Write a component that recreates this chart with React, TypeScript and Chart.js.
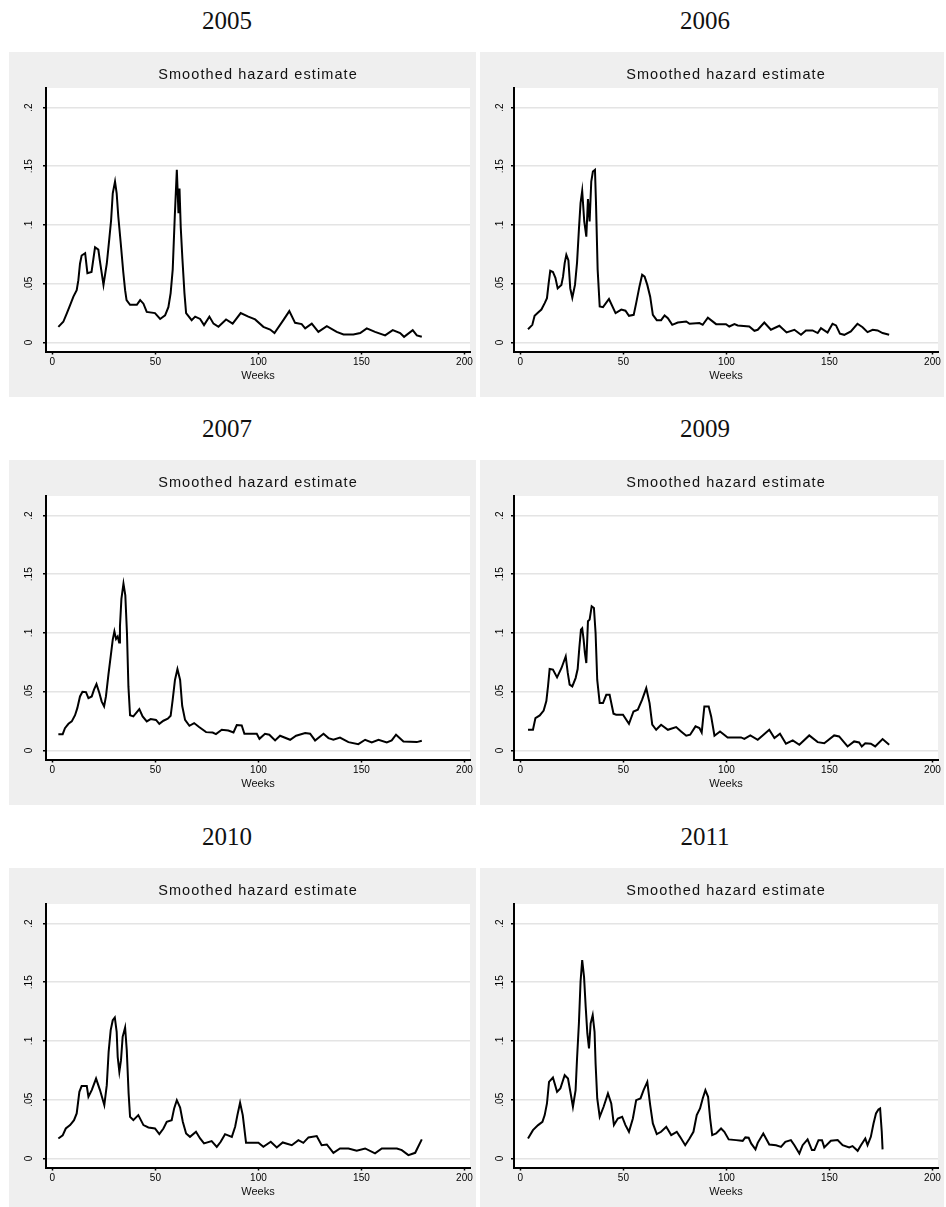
import React, { useEffect, useRef } from "react";
import { Chart, registerables } from "chart.js";

Chart.register(...registerables);

const panelTitle = "Smoothed hazard estimate";
const xAxisTitle = "Weeks";
const xTicks = [0, 50, 100, 150, 200];
const yTicks = [0, 0.05, 0.1, 0.15, 0.2];
const yTickLabels = ["0", ".05", ".1", ".15", ".2"];
const years = ["2005", "2006", "2007", "2009", "2010", "2011"];

const weeks2005 = [2.9,5.3,7,8.6,10.2,11.8,12.6,13.4,14.2,15.9,17,19,20.7,22.3,23,24.8,26.4,27.5,28.5,29.3,30.4,31.2,32,33.2,34.4,35.3,36,37.7,41,42.6,44.2,45.8,49.8,52.3,54.7,56.3,57.4,58.4,59.4,60.4,61.2,61.7,62.3,63.1,64.1,64.9,67.6,69.3,71.7,73.6,76.2,78.2,80.6,84.3,87.5,91.4,95.1,98.4,102.4,105.7,107.8,112.1,115,117.8,121,122.7,125.9,129.1,133.2,138,141.3,146.1,149.4,152.6,156.6,161.5,165.2,168.8,170.7,174.9,176.9,179.3];
const hazard2005 = [0.0133,0.0176,0.0247,0.0318,0.039,0.0445,0.053,0.067,0.074,0.076,0.059,0.06,0.081,0.079,0.07,0.049,0.067,0.086,0.104,0.127,0.137,0.127,0.107,0.084,0.06,0.0445,0.036,0.032,0.032,0.036,0.033,0.026,0.025,0.02,0.023,0.03,0.042,0.062,0.107,0.147,0.11,0.131,0.098,0.0715,0.042,0.025,0.019,0.022,0.02,0.0148,0.022,0.016,0.0133,0.0196,0.016,0.025,0.022,0.0196,0.0133,0.011,0.008,0.019,0.0267,0.0167,0.0156,0.012,0.016,0.009,0.0139,0.009,0.0068,0.0068,0.008,0.012,0.009,0.006,0.0105,0.008,0.0048,0.0105,0.006,0.0048];

const weeks2006 = [3.7,5.8,6.9,8.6,10.2,11.8,12.9,13.7,14.5,15.8,17,18.1,19.9,20.7,21.5,22.3,23.3,24.2,25.2,26.5,27.5,28.4,29.2,30,31,32,32.8,33.6,34.4,35.2,36.2,36.7,37.5,38.5,40.1,43,46.2,49,51,52.7,55,56.2,57.8,59.1,60.3,61.6,63,64.3,66.2,68.3,70,71.6,73.7,76.4,80.5,82.1,86.9,88.5,91,95,99.8,101.4,103.9,105.5,111.1,113.6,115.2,118.4,121.6,125.7,129.2,133,136.2,138.6,141.8,144.3,145.9,149.1,151.5,153.2,155.1,157.2,160.4,163.6,166.1,168.5,171,173.4,175.8,179];
const hazard2006 = [0.0113,0.015,0.0227,0.0255,0.028,0.0335,0.0377,0.05,0.061,0.06,0.055,0.046,0.049,0.056,0.0675,0.0746,0.07,0.046,0.038,0.049,0.068,0.096,0.1186,0.129,0.103,0.09,0.122,0.103,0.137,0.1455,0.147,0.1186,0.062,0.0306,0.03,0.037,0.025,0.028,0.027,0.0227,0.0235,0.0335,0.0477,0.0576,0.056,0.049,0.039,0.0235,0.019,0.019,0.023,0.0207,0.015,0.017,0.0179,0.0159,0.0165,0.015,0.021,0.0156,0.0156,0.0136,0.0156,0.0145,0.0136,0.0099,0.0108,0.017,0.0108,0.0142,0.0085,0.0108,0.0065,0.0102,0.0102,0.008,0.0122,0.0085,0.0159,0.0145,0.0074,0.0065,0.0094,0.0159,0.013,0.0088,0.0108,0.0102,0.008,0.0065];

const weeks2007 = [2.9,5,6.1,7.8,9.4,11,12.1,13.4,14.6,16.3,17.5,19.1,20.2,21.4,22.8,23.9,25.1,26,27.2,28.3,29.3,30.1,30.9,31.7,32.4,32.8,33.5,34.5,35.4,36.2,36.9,37.7,39.3,42.2,43.8,45.8,47.7,50.3,51.9,53.9,56,57.4,58.4,59.5,60.7,62,63,64.4,66.5,68.8,71.2,74.6,77.8,79.4,82.2,85.4,87.9,89.5,91.9,93.2,99.2,100.5,103.2,105.3,108.1,110.5,115.4,118.3,122.7,125.1,127.5,131.6,134,136.4,139.6,143.7,148.5,151.8,155,158.3,162.3,164.7,166.8,170.4,176.9,179.3];
const hazard2007 = [0.0139,0.0139,0.019,0.0227,0.0247,0.03,0.036,0.046,0.05,0.0497,0.0446,0.046,0.0517,0.0565,0.0489,0.0418,0.0375,0.046,0.0645,0.08,0.0943,0.1014,0.0949,0.097,0.092,0.1057,0.129,0.142,0.132,0.1,0.0545,0.03,0.029,0.0352,0.029,0.0247,0.0267,0.026,0.0227,0.0253,0.027,0.0295,0.0432,0.06,0.0693,0.06,0.038,0.026,0.021,0.0233,0.0199,0.0156,0.0153,0.0139,0.0176,0.017,0.0153,0.0216,0.0213,0.0142,0.0142,0.0099,0.0142,0.0134,0.0085,0.0125,0.0091,0.0125,0.0148,0.0142,0.0085,0.0142,0.0105,0.0091,0.011,0.0071,0.0054,0.0091,0.0068,0.0091,0.0068,0.0085,0.0134,0.0077,0.0071,0.0082];

const weeks2009 = [3.7,6.1,7.3,9.4,11.3,12.6,13.4,14.2,15.8,17.8,19.9,22,23,23.9,25.2,26.8,27.8,28.6,29.4,30,30.7,31.3,32,32.8,33.6,34.6,35.7,36.5,37.3,38.5,40.1,41.7,43.3,45.2,46.5,49.8,52.7,54.9,57,59.1,61.1,62.7,64,65.9,68.3,71.6,75.6,78,80.5,82.4,85,86.9,88,89.3,91.4,92.6,94.2,96.9,100.6,107.1,108.7,111.6,115.2,117.6,120.8,123.3,126,128.9,132.2,135.4,140.2,144.3,147.5,152.3,154.7,158.8,162,164.4,165.7,167.4,170.1,172.2,175.8,179];
const hazard2009 = [0.0176,0.0176,0.0276,0.0298,0.034,0.042,0.0545,0.0693,0.0688,0.0622,0.07,0.08,0.066,0.056,0.0545,0.0616,0.0693,0.0872,0.1028,0.104,0.0943,0.083,0.0744,0.11,0.1114,0.1227,0.1213,0.1,0.06,0.0403,0.0403,0.0474,0.0474,0.0313,0.0304,0.0304,0.0227,0.0332,0.0347,0.0432,0.053,0.0403,0.0219,0.0176,0.0219,0.0176,0.0199,0.0162,0.0125,0.0134,0.0205,0.019,0.0153,0.0375,0.0375,0.029,0.0125,0.0162,0.0111,0.0111,0.0099,0.0128,0.0091,0.0128,0.0176,0.0105,0.0142,0.0057,0.0085,0.0048,0.0128,0.0071,0.0062,0.0128,0.0119,0.0034,0.0077,0.0068,0.0034,0.0062,0.0057,0.0034,0.0097,0.0048];

const weeks2010 = [2.9,5,6.5,8.6,10.5,11.8,13.1,14.2,16.7,17.5,19.1,21.2,23.1,25.2,26.4,27.3,28.3,29.3,30.3,31.2,31.7,32.5,33.3,34.1,35.3,36.1,37,37.7,39.3,41.7,44.2,46.6,49.8,51.9,53.9,55.5,57.9,59.1,60.4,62,63.3,64.9,66.8,69.7,71.7,73.6,77.3,79.8,81.7,83.8,87.1,88.7,89.8,91.1,92.4,94,95.1,100,102.4,106,108.9,111.8,116.2,119.4,121.8,124.3,128.3,130.7,133.2,136.4,139.6,143.7,147.7,151.8,156.6,159.9,167.2,169.6,172.8,176.1,179.3];
const hazard2010 = [0.017,0.0196,0.0255,0.0284,0.0326,0.0383,0.0567,0.0616,0.0616,0.0525,0.0582,0.068,0.0582,0.0454,0.0624,0.0908,0.1092,0.1177,0.12,0.1078,0.0865,0.0738,0.0837,0.1035,0.1115,0.0922,0.0553,0.0355,0.0326,0.0369,0.0284,0.0264,0.0255,0.0207,0.0255,0.0312,0.0326,0.0426,0.0496,0.0434,0.0312,0.0213,0.0184,0.0227,0.017,0.0128,0.0148,0.0099,0.0142,0.0207,0.0184,0.027,0.0369,0.0474,0.0369,0.0133,0.0133,0.0133,0.0099,0.0142,0.0094,0.0136,0.0113,0.0156,0.0133,0.0179,0.019,0.0113,0.0119,0.0048,0.0085,0.0085,0.0065,0.0085,0.0043,0.0085,0.0085,0.0071,0.0028,0.0048,0.0162];

const weeks2011 = [3.7,6.1,8.6,10.7,11.8,12.9,13.9,15.8,17.8,19.4,21.5,23.1,24.4,25.5,26.8,27.5,28.4,29.2,30,30.9,31.7,32.5,33.3,34.1,35.1,36,36.5,37.3,38.5,40.4,42.5,44.1,45.4,47.3,49.4,51,52.7,54.6,56.2,58.3,59.8,61.6,63,64.3,66.2,68.3,70.8,73.2,75.9,77.5,80,82.1,84,85.6,87.2,88.5,89.8,91.1,92.1,93.1,95,97.4,99,101.1,104.7,107.9,109.2,110.8,112,114.1,115.2,117.9,120.8,124.1,126.5,128.6,131.3,133,135.4,137,139.4,141.5,142.7,144.7,146.4,147.5,150.7,154,156.4,159.6,161.2,163.7,165.3,167.4,168.5,170.1,171.4,172.6,173.8,174.6,175.4,175.8];
const hazard2011 = [0.017,0.0241,0.0284,0.0312,0.0369,0.0468,0.0652,0.0689,0.0567,0.0596,0.0709,0.068,0.0553,0.044,0.0582,0.0851,0.1149,0.1504,0.1688,0.1546,0.129,0.1064,0.0936,0.1149,0.122,0.1078,0.0809,0.0511,0.0355,0.044,0.0553,0.0468,0.0284,0.034,0.0355,0.0284,0.0227,0.034,0.0496,0.0511,0.0582,0.0652,0.0454,0.0298,0.0207,0.0227,0.027,0.0199,0.0227,0.0184,0.0113,0.017,0.0227,0.0369,0.0426,0.0511,0.0582,0.0525,0.034,0.0199,0.0213,0.0255,0.0227,0.0162,0.0156,0.015,0.0179,0.0176,0.0128,0.0077,0.0133,0.0213,0.0119,0.0113,0.0099,0.0142,0.0156,0.0113,0.0043,0.0113,0.0162,0.0071,0.0071,0.0156,0.0156,0.0094,0.015,0.0156,0.0113,0.0094,0.0105,0.0065,0.0113,0.017,0.0113,0.0184,0.0298,0.0383,0.0417,0.0426,0.0227,0.0077];

const seriesWeeks = [weeks2005, weeks2006, weeks2007, weeks2009, weeks2010, weeks2011];
const seriesHazard = [hazard2005, hazard2006, hazard2007, hazard2009, hazard2010, hazard2011];

const COLS = [
  { boxX: 9, boxW: 467, plotLeft: 37, yearX: 227 },
  { boxX: 480, boxW: 464, plotLeft: 34, yearX: 705 },
];
const ROW_PITCH = 408;
const BOX_TOP = 52;
const BOX_H = 345;
const PLOT_TOP = 36;
const X_AXIS_H = 45.5;
const RIGHT_PAD = 6;
const LABEL_FONT = "'Liberation Sans', Arial, sans-serif";

const whitePlot = {
  id: "whitePlot",
  beforeDraw(chart: any) {
    const { ctx, chartArea } = chart;
    if (!chartArea) return;
    ctx.save();
    ctx.fillStyle = "#ffffff";
    ctx.fillRect(chartArea.left, chartArea.top, chartArea.right - chartArea.left, chartArea.bottom - chartArea.top);
    ctx.restore();
  },
};

function Panel({ index }: { index: number }) {
  const ref = useRef<HTMLCanvasElement | null>(null);
  const col = COLS[index % 2];
  const row = Math.floor(index / 2);
  const top = row * ROW_PITCH;

  useEffect(() => {
    if (!ref.current) return;
    const weeks = seriesWeeks[index];
    const hazard = seriesHazard[index];
    const yPad = col.plotLeft - 3 - 6.95 - 20.5;
    const chart = new Chart(ref.current, {
      type: "line",
      data: {
        datasets: [
          {
            data: weeks.map((w, i) => ({ x: w, y: hazard[i] })),
            borderColor: "#000000",
            borderWidth: 2,
            pointRadius: 0,
            tension: 0,
            fill: false,
          },
        ],
      },
      plugins: [whitePlot],
      options: {
        animation: false,
        responsive: false,
        maintainAspectRatio: false,
        events: [],
        layout: { padding: { left: 0, right: RIGHT_PAD, top: PLOT_TOP, bottom: 0 } },
        plugins: {
          legend: { display: false },
          tooltip: { enabled: false },
          title: { display: false },
        },
        scales: {
          x: {
            type: "linear",
            min: -3.1,
            max: 202.7,
            afterBuildTicks: (s: any) => {
              s.ticks = xTicks.map((value) => ({ value }));
            },
            afterFit: (s: any) => {
              s.height = X_AXIS_H;
            },
            grid: { drawOnChartArea: false, drawTicks: true, tickLength: 3, tickColor: "#000", tickWidth: 1.5 },
            border: { display: true, color: "#000", width: 2 },
            ticks: {
              autoSkip: false,
              maxRotation: 0,
              minRotation: 0,
              padding: 1.5,
              color: "#000",
              font: { family: LABEL_FONT, size: 10 },
              callback: (v: any) => String(v),
            },
            title: {
              display: true,
              text: xAxisTitle,
              color: "#111",
              font: { family: LABEL_FONT, size: 11 },
              padding: { top: 0, bottom: 14.5 },
            },
          },
          y: {
            type: "linear",
            min: -0.0077,
            max: 0.2166,
            afterBuildTicks: (s: any) => {
              s.ticks = yTicks.map((value) => ({ value }));
            },
            afterFit: (s: any) => {
              s.width = col.plotLeft;
            },
            grid: { color: "#e4e4e4", lineWidth: 1.5, drawTicks: true, tickLength: 3, tickColor: "#000", tickWidth: 1.5 },
            border: { display: true, color: "#000", width: 2 },
            ticks: {
              autoSkip: false,
              minRotation: 90,
              maxRotation: 90,
              crossAlign: "center",
              padding: yPad,
              color: "#000",
              font: { family: LABEL_FONT, size: 10 },
              callback: (_v: any, i: number) => yTickLabels[i],
            },
          },
        },
      } as any,
    });
    return () => chart.destroy();
  }, [index]);

  return (
    <>
      <div
        style={{
          position: "absolute",
          left: col.yearX - 100,
          top: top,
          width: 200,
          height: 42,
          lineHeight: "42px",
          textAlign: "center",
          fontFamily: "'Liberation Serif', 'Times New Roman', serif",
          fontSize: 25,
          color: "#111",
        }}
      >
        {years[index]}
      </div>
      <div
        style={{
          position: "absolute",
          left: col.boxX,
          top: top + BOX_TOP,
          width: col.boxW,
          height: BOX_H,
          background: "#efefef",
        }}
      >
        <canvas ref={ref} width={col.boxW} height={BOX_H} style={{ display: "block", width: col.boxW, height: BOX_H }} />
        <div
          style={{
            position: "absolute",
            left: col.plotLeft,
            top: 21 - 9.5,
            width: col.boxW - col.plotLeft - RIGHT_PAD,
            height: 20,
            lineHeight: "20px",
            textAlign: "center",
            fontFamily: LABEL_FONT,
            fontSize: 14.5,
            letterSpacing: "1.1px",
            color: "#111",
            whiteSpace: "nowrap",
          }}
        >
          {panelTitle}
        </div>
      </div>
    </>
  );
}

export default function App() {
  return (
    <div
      style={{
        position: "absolute",
        left: 0,
        top: 0,
        width: 946,
        height: 1207,
        overflow: "hidden",
        background: "#ffffff",
      }}
    >
      {years.map((_, i) => (
        <Panel key={i} index={i} />
      ))}
    </div>
  );
}
